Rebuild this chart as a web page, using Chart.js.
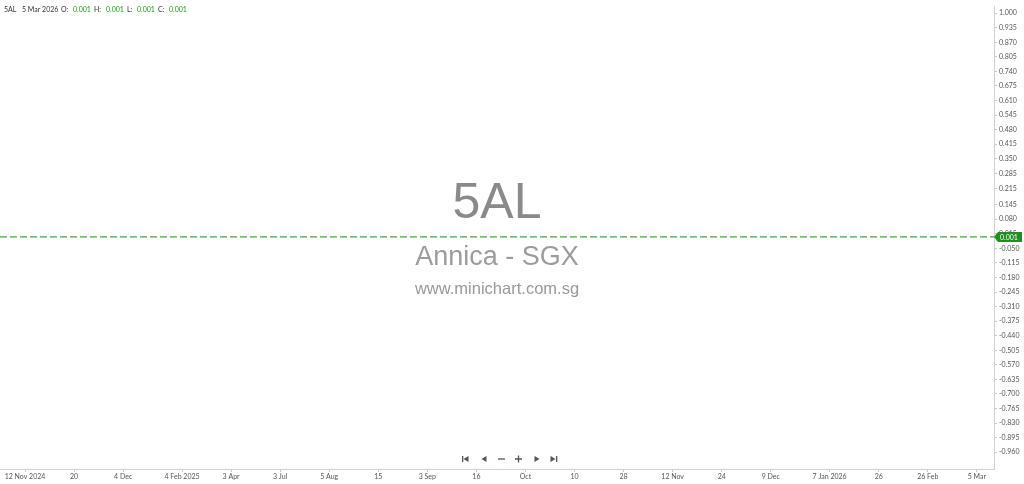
<!DOCTYPE html>
<html>
<head>
<meta charset="utf-8">
<script src="https://cdn.jsdelivr.net/npm/chart.js@4.4.1/dist/chart.umd.min.js"></script>
<style>
html,body{margin:0;padding:0;background:#fff;}
#wrap{width:1024px;height:484px;position:relative;}
</style>
</head>
<body>
<div id="wrap"><canvas id="chart"></canvas></div>
<script>
// data
const symbol="5AL";
const companyName="Annica - SGX";
const siteName="www.minichart.com.sg";
const lastDate="5 Mar 2026";
const ohlcLabels=["O:","H:","L:","C:"];
const ohlcValues=[0.001,0.001,0.001,0.001];
const lastClose=0.001;

// x axis: bar index of each date label
const xTickPos=[0,10,20,32,42,52,62,72,82,92,102,112,122,132,142,152,164,174,184,194];
const xTickLabels=["12 Nov 2024","20","4 Dec","4 Feb 2025","3 Apr","3 Jul","5 Aug","15","3 Sep","16","Oct","10","28","12 Nov","24","9 Dec","7 Jan 2026","26","26 Feb","5 Mar"];
const xMin=-5.1, xMax=197.5;

const yTickLabels=["1.000","0.935","0.870","0.805","0.740","0.675","0.610","0.545","0.480","0.415","0.350","0.285","0.215","0.145","0.080","0.015","-0.050","-0.115","-0.180","-0.245","-0.310","-0.375","-0.440","-0.505","-0.570","-0.635","-0.700","-0.765","-0.830","-0.895","-0.960"];
const yMin=-1.035, yMax=1.031;

const font="Lato, 'Open Sans', sans-serif";
const green="#1a9a1a";

const headerPlugin={
    id:"header",
    afterDraw(chart){
        const ctx=chart.ctx;
        ctx.save();
        ctx.font="7px "+font;
        ctx.textBaseline="middle";
        ctx.fillStyle="#333";
        ctx.fillText(symbol,4,10);
        ctx.fillText(lastDate,22,10);
        const lx=[61,94,127,158], vx=[73,106,137,169];
        ohlcLabels.forEach((l,i)=>{
            ctx.fillStyle="#333";
            ctx.fillText(l,lx[i],10);
            ctx.fillStyle=green;
            ctx.fillText(ohlcValues[i].toFixed(3),vx[i],10);
        });
        ctx.restore();
    }
};

const watermarkPlugin={
    id:"watermark",
    beforeDatasetsDraw(chart){
        const ctx=chart.ctx, a=chart.chartArea;
        const cx=(a.left+a.right)/2;
        ctx.save();
        ctx.textAlign="center";
        ctx.textBaseline="middle";
        ctx.fillStyle="#8a8a8a";
        ctx.font="50px 'Liberation Sans', Arial, sans-serif";
        ctx.fillText(symbol,cx,204);
        ctx.fillStyle="#9c9c9c";
        ctx.font="27px 'Liberation Sans', Arial, sans-serif";
        ctx.fillText(companyName,cx,258);
        ctx.fillStyle="#999";
        ctx.font="16.5px 'Liberation Sans', Arial, sans-serif";
        ctx.fillText(siteName,cx,289);
        ctx.restore();
    }
};

const navPlugin={
    id:"nav",
    afterDraw(chart){
        const ctx=chart.ctx, y=459;
        ctx.save();
        ctx.fillStyle="#555";
        ctx.strokeStyle="#555";
        ctx.lineWidth=1.3;
        function tri(x,dir){
            ctx.beginPath();
            ctx.moveTo(x-2.5*dir,y);
            ctx.lineTo(x+2.5*dir,y-3);
            ctx.lineTo(x+2.5*dir,y+3);
            ctx.closePath();
            ctx.fill();
        }
        ctx.fillRect(462,y-3,1.3,6); tri(466,1);
        tri(484,1);
        ctx.beginPath(); ctx.moveTo(498,y); ctx.lineTo(505,y); ctx.stroke();
        ctx.beginPath(); ctx.moveTo(515,y); ctx.lineTo(522,y); ctx.moveTo(518.5,y-3.5); ctx.lineTo(518.5,y+3.5); ctx.stroke();
        tri(537,-1);
        tri(553,-1); ctx.fillRect(556,y-3,1.3,6);
        ctx.restore();
    }
};

const priceTagPlugin={
    id:"priceTag",
    afterDraw(chart){
        const ctx=chart.ctx, ys=chart.scales.y;
        const y=ys.getPixelForValue(lastClose);
        const x0=ys.left;
        ctx.save();
        ctx.fillStyle="#1f8f1f";
        ctx.beginPath();
        ctx.moveTo(x0,y);
        ctx.lineTo(x0+4,y-5);
        ctx.lineTo(x0+28,y-5);
        ctx.lineTo(x0+28,y+5);
        ctx.lineTo(x0+4,y+5);
        ctx.closePath();
        ctx.fill();
        ctx.fillStyle="#fff";
        ctx.font="7px "+font;
        ctx.textBaseline="middle";
        ctx.fillText(lastClose.toFixed(3),x0+6,y+0.5);
        ctx.restore();
    }
};

new Chart(document.getElementById("chart"),{
    type:"line",
    data:{datasets:[{
        data:[{x:xMin,y:lastClose},{x:xMax,y:lastClose}],
        borderColor:"#3fa53f",
        borderWidth:1.2,
        borderDash:[7,3],
        pointRadius:0,
        fill:false
    }]},
    options:{
        responsive:true,
        maintainAspectRatio:false,
        animation:false,
        layout:{padding:0},
        plugins:{legend:{display:false},tooltip:{enabled:false}},
        scales:{
            x:{
                type:"linear",
                min:xMin,max:xMax,
                afterBuildTicks(scale){scale.ticks=xTickPos.map(v=>({value:v}));},
                afterFit(scale){scale.height=15;},
                grid:{drawOnChartArea:false,drawTicks:true,tickLength:3,color:"#c8c8c8"},
                border:{display:true,color:"#d0d0d0"},
                ticks:{
                    autoSkip:false,maxRotation:0,padding:1,
                    color:"#555",font:{family:font,size:7},
                    callback:v=>xTickLabels[xTickPos.indexOf(v)]
                }
            },
            y:{
                position:"right",
                min:yMin,max:yMax,
                afterBuildTicks(scale){scale.ticks=yTickLabels.map(s=>({value:parseFloat(s)}));},
                afterFit(scale){scale.width=30;},
                grid:{drawOnChartArea:false,drawTicks:true,tickLength:3,color:"#c8c8c8"},
                border:{display:true,color:"#d0d0d0"},
                ticks:{
                    autoSkip:false,padding:2,
                    color:"#555",font:{family:font,size:7},
                    callback:v=>yTickLabels[yTickLabels.findIndex(s=>parseFloat(s)===v)]
                }
            }
        }
    },
    plugins:[watermarkPlugin,headerPlugin,navPlugin,priceTagPlugin]
});
</script>
</body>
</html>
